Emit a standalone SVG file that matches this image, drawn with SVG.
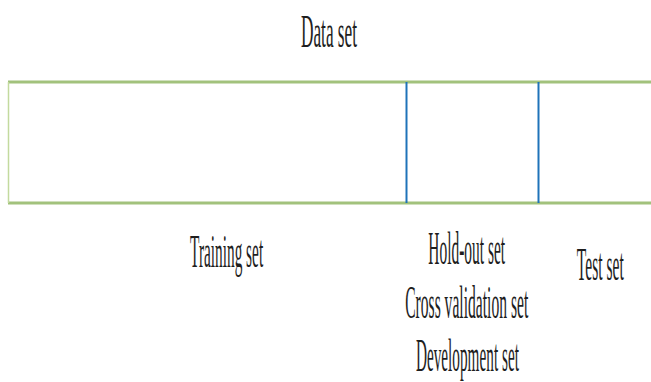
<svg xmlns="http://www.w3.org/2000/svg" width="651" height="382" viewBox="0 0 651 382">
<style>
.lbl{font-family:"Liberation Serif","Times New Roman",serif;font-size:47px;fill:#1e1e1e;text-anchor:middle}
.edge{stroke:#a2c27c;stroke-width:3;fill:none}
.side{stroke:#c3da9e;stroke-width:1.5;fill:none}
.div{stroke:#1f73b9;stroke-width:2;fill:none}
</style>
<rect width="651" height="382" fill="#ffffff"/>
<g id="title">
<text class="lbl" transform="translate(329,47) scale(0.34,1)" textLength="165" lengthAdjust="spacingAndGlyphs">Data set</text>
</g>
<g id="dataset-bar">
<line class="edge" x1="8" y1="82" x2="651" y2="82"/>
<line class="edge" x1="8" y1="203" x2="651" y2="203"/>
<line class="side" x1="8.5" y1="82" x2="8.5" y2="203"/>
</g>
<g id="connectors">
<line class="div" x1="406.5" y1="82" x2="406.5" y2="203"/>
<line class="div" x1="538.5" y1="82" x2="538.5" y2="203"/>
</g>
<g id="training">
<text class="lbl" transform="translate(226.6,267) scale(0.34,1)" textLength="215" lengthAdjust="spacingAndGlyphs">Training set</text>
</g>
<g id="holdout">
<text class="lbl" transform="translate(466.7,264) scale(0.34,1)" textLength="226" lengthAdjust="spacingAndGlyphs">Hold-out set</text>
<text class="lbl" transform="translate(466.7,318) scale(0.34,1)" textLength="362" lengthAdjust="spacingAndGlyphs">Cross validation set</text>
<text class="lbl" transform="translate(467.4,371) scale(0.34,1)" textLength="303" lengthAdjust="spacingAndGlyphs">Development set</text>
</g>
<g id="test">
<text class="lbl" transform="translate(600.3,280) scale(0.34,1)" textLength="138" lengthAdjust="spacingAndGlyphs">Test set</text>
</g>
</svg>
